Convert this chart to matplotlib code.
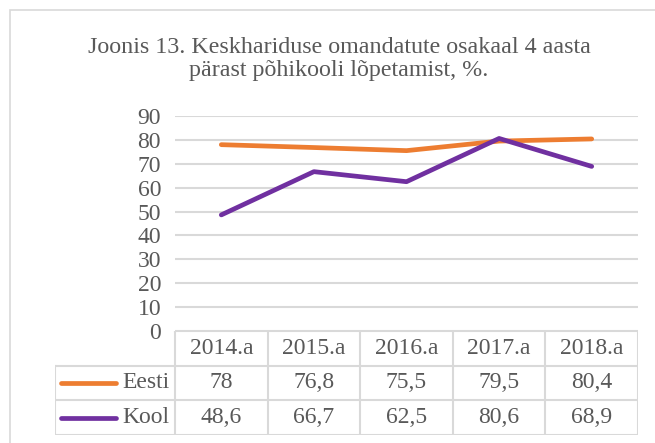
import numpy as np
import matplotlib.pyplot as plt
from matplotlib.patches import Rectangle

# DATOS
title = "Joonis 13. Keskhariduse omandatute osakaal 4 aasta\npärast põhikooli lõpetamist, %."
categories = ["2014.a", "2015.a", "2016.a", "2017.a", "2018.a"]
labels = ["Eesti", "Kool"]
eesti = [78, 76.8, 75.5, 79.5, 80.4]
kool = [48.6, 66.7, 62.5, 80.6, 68.9]
yticks = [0, 10, 20, 30, 40, 50, 60, 70, 80, 90]

colors = ["#ed7d31", "#7030a0"]
series = [eesti, kool]
text_color = "#595959"
grid_color = "#d9d9d9"
fs = 17

plt.rcParams['font.family'] = ['Liberation Serif', 'DejaVu Serif']

W, H = 655, 443
fig = plt.figure(figsize=(W / 100, H / 100), dpi=100)


def px(x0, y0, x1, y1):
    # caja en pixeles (desde arriba) -> fracciones de figura
    return [x0 / W, 1 - y1 / H, (x1 - x0) / W, (y1 - y0) / H]


# borde del grafico
fig.patches.append(Rectangle((10 / W, -0.1), 1.2, 1 - 10 / H + 0.1, transform=fig.transFigure,
                             fill=False, edgecolor=grid_color, linewidth=1.2))

fig.text(339 / W, 1 - 59 / H, title, ha="center", va="center", fontsize=17.3,
         color=text_color, linespacing=1.12)

# AREA DEL GRAFICO
x = np.arange(len(categories))
ax = fig.add_axes(px(175, 116, 638, 331))
for k in range(len(series)):
    ax.plot(x, series[k], color=colors[k], linewidth=3.4, solid_capstyle="round",
            solid_joinstyle="round", zorder=3)
ax.set_xlim(-0.5, len(categories) - 0.5)
ax.set_ylim(0, 90)
ax.set_yticks(yticks)
ax.set_yticklabels([str(v) for v in yticks])
ax.set_xticks([])
ax.grid(axis="y", color=grid_color, linewidth=1.5)
ax.set_axisbelow(True)
for s in ax.spines.values():
    s.set_visible(False)
ax.tick_params(axis="y", length=0, pad=10, labelsize=fs, labelcolor=text_color)

# TABLA DE DATOS
col_w = (638 - 175) / len(categories)
leg_w = (175 - 55) / col_w
tx = fig.add_axes(px(55, 331, 638, 435))
tx.set_xlim(-0.5 - leg_w, len(categories) - 0.5)
tx.set_ylim(3, 0)
tx.axis("off")

lw = 1.5
# lineas horizontales
tx.plot([-0.5, len(categories) - 0.5], [0, 0], color=grid_color, lw=lw)
for r in [1, 2, 3]:
    tx.plot([-0.5 - leg_w, len(categories) - 0.5], [r, r], color=grid_color, lw=lw)
# lineas verticales
tx.plot([-0.5 - leg_w, -0.5 - leg_w], [1, 3], color=grid_color, lw=lw)
for c in range(len(categories) + 1):
    tx.plot([c - 0.5, c - 0.5], [0, 3], color=grid_color, lw=lw)

for i, cat in enumerate(categories):
    tx.text(i, 0.5, cat, ha="center", va="center", fontsize=fs, color=text_color)
for k in range(len(series)):
    for i, v in enumerate(series[k]):
        tx.text(i, k + 1.5, f"{v:g}".replace(".", ","), ha="center", va="center",
                fontsize=fs, color=text_color)
    tx.plot([-0.5 - leg_w + 0.07, -0.5 - leg_w + 0.66], [k + 1.5, k + 1.5],
            color=colors[k], lw=3.4, solid_capstyle="round")
    tx.text(-0.5 - 0.06, k + 1.5, labels[k], ha="right", va="center", fontsize=fs,
            color=text_color)

fig.savefig("out.png", dpi=100)
